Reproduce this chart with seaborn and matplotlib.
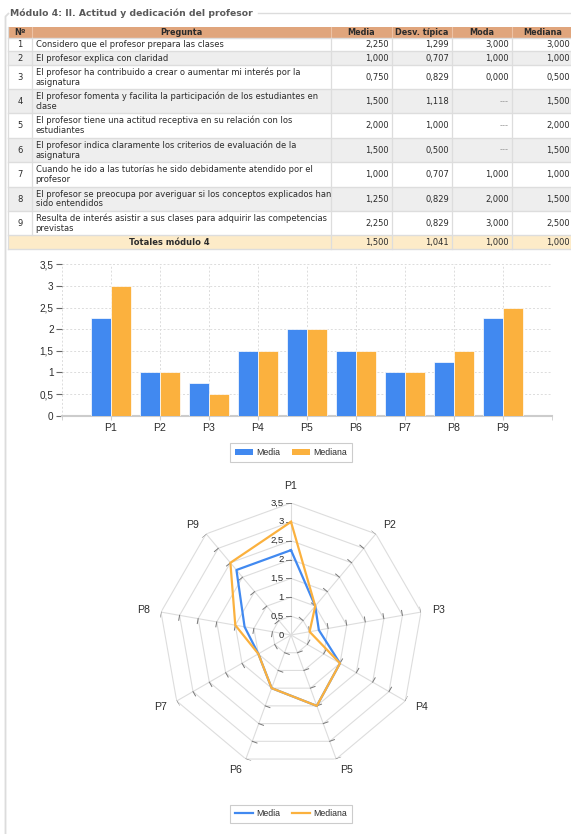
import numpy as np
import pandas as pd
import matplotlib
matplotlib.use("Agg")
import matplotlib.pyplot as plt
import seaborn as sns
from matplotlib.patches import Rectangle, Patch
from matplotlib.lines import Line2D

# ---------------- data ----------------
titulo = "Módulo 4: II. Actitud y dedicación del profesor"
encabezados = ["Nº", "Pregunta", "Media", "Desv. típica", "Moda", "Mediana"]
numeros = ["1", "2", "3", "4", "5", "6", "7", "8", "9"]
preguntas = [
    "Considero que el profesor prepara las clases",
    "El profesor explica con claridad",
    "El profesor ha contribuido a crear o aumentar mi interés por la\nasignatura",
    "El profesor fomenta y facilita la participación de los estudiantes en\nclase",
    "El profesor tiene una actitud receptiva en su relación con los\nestudiantes",
    "El profesor indica claramente los criterios de evaluación de la\nasignatura",
    "Cuando he ido a las tutorías he sido debidamente atendido por el\nprofesor",
    "El profesor se preocupa por averiguar si los conceptos explicados han\nsido entendidos",
    "Resulta de interés asistir a sus clases para adquirir las competencias\nprevistas",
]
media = [2.25, 1.0, 0.75, 1.5, 2.0, 1.5, 1.0, 1.25, 2.25]
desv_tipica = [1.299, 0.707, 0.829, 1.118, 1.0, 0.5, 0.707, 0.829, 0.829]
moda = [3.0, 1.0, 0.0, None, None, None, 1.0, 2.0, 3.0]
mediana = [3.0, 1.0, 0.5, 1.5, 2.0, 1.5, 1.0, 1.5, 2.5]
totales_etiqueta = "Totales módulo 4"
totales = [1.5, 1.041, 1.0, 1.0]
categorias = ["P1", "P2", "P3", "P4", "P5", "P6", "P7", "P8", "P9"]
series = ["Media", "Mediana"]
y_ticks = [0, 0.5, 1, 1.5, 2, 2.5, 3, 3.5]

# ---------------- style ----------------
W, H = 571, 834
AZUL = "#4189F0"
NARANJA = "#FBB13E"
TXT = "#2b2b2b"
plt.rcParams["font.family"] = ["DejaVu Sans"]
CHART_FONT = ["Liberation Sans", "DejaVu Sans"]

fig = plt.figure(figsize=(W / 100, H / 100), dpi=100)


def box(x0, y0, x1, y1):
    return [x0 / W, 1 - y1 / H, (x1 - x0) / W, (y1 - y0) / H]


def fmt3(v):
    return "---" if v is None else f"{v:.3f}".replace(".", ",")


def fmt_tick(v):
    return f"{v:g}".replace(".", ",")


# ---------------- background / table ----------------
bg = fig.add_axes([0, 0, 1, 1])
bg.set_xlim(0, W)
bg.set_ylim(H, 0)
bg.axis("off")

# fieldset border
bg.plot([9, 5.5, 5.5], [13, 16.5, H], color="#dcdcdc", lw=1.3, solid_capstyle="butt")
bg.plot([258, W], [13, 13], color="#dcdcdc", lw=1.0)
bg.text(10, 13.2, titulo, fontsize=6.7, fontweight="bold", color="#595959",
        ha="left", va="center")

cols = [8, 32, 331, 392, 452, 512, 573]
hdr = (26.5, 37.5)
rows = [37.5, 51, 65, 89, 113, 137.5, 162, 186.5, 211, 235, 249]

# header
bg.add_patch(Rectangle((cols[0], hdr[0]), cols[-1] - cols[0], hdr[1] - hdr[0],
                       facecolor="#E0A57C", edgecolor="none"))
for c in cols[1:-1]:
    bg.plot([c, c], hdr, color="#EDC2A4", lw=0.8)
for i, h in enumerate(encabezados):
    bg.text((cols[i] + cols[i + 1]) / 2, sum(hdr) / 2 + 0.3, h, fontsize=5.9,
            fontweight="bold", color=TXT, ha="center", va="center")

# body rows
for r in range(9):
    y0, y1 = rows[r], rows[r + 1]
    fc = "#EEEEEE" if r % 2 == 1 else "white"
    bg.add_patch(Rectangle((cols[0], y0), cols[-1] - cols[0], y1 - y0,
                           facecolor=fc, edgecolor="none"))
    yc = (y0 + y1) / 2 + 0.3
    bg.text(20, yc, numeros[r], fontsize=6, color=TXT, ha="center", va="center")
    bg.text(35.5, yc, preguntas[r], fontsize=6, color=TXT, ha="left", va="center",
            linespacing=1.12)
    vals = [media[r], desv_tipica[r], moda[r], mediana[r]]
    for j, v in enumerate(vals):
        bg.text(cols[j + 3] - 3, yc, fmt3(v), fontsize=6,
                color="#9a9a9a" if v is None else TXT, ha="right", va="center")

# totals row
y0, y1 = rows[9], rows[10]
bg.add_patch(Rectangle((cols[0], y0), cols[-1] - cols[0], y1 - y0,
                       facecolor="#FDEBC8", edgecolor="none"))
yc = (y0 + y1) / 2 + 0.3
bg.text((cols[0] + cols[2]) / 2, yc, totales_etiqueta, fontsize=6,
        fontweight="bold", color=TXT, ha="center", va="center")
for j, v in enumerate(totales):
    bg.text(cols[j + 3] - 3, yc, fmt3(v), fontsize=6, color=TXT,
            ha="right", va="center")

# grid lines of the table
for yy in rows:
    bg.plot([cols[0], cols[-1]], [yy, yy], color="#dddddd", lw=1.0)
for c in cols[1:-1]:
    if c == cols[1]:
        bg.plot([c, c], [rows[0], rows[9]], color="#dddddd", lw=0.9)
    else:
        bg.plot([c, c], [rows[0], rows[10]], color="#dddddd", lw=0.9)
bg.plot([cols[0], cols[0]], [hdr[0], rows[10]], color="#dddddd", lw=0.9)

# ---------------- bar chart ----------------
df_bar = pd.DataFrame({
    "Pregunta": categorias * 2,
    "Valor": media + mediana,
    "Serie": [series[0]] * len(categorias) + [series[1]] * len(categorias),
})
axb = fig.add_axes(box(62, 264.3, 552, 415.7))
sns.barplot(data=df_bar, x="Pregunta", y="Valor", hue="Serie", order=categorias,
            hue_order=series, palette=[AZUL, NARANJA], width=0.8, saturation=1,
            edgecolor="white", linewidth=0.5, legend=False, ax=axb, zorder=3)
axb.set_xlim(-1, 9)
axb.set_ylim(0, 3.5)
axb.set_yticks(y_ticks)
axb.set_yticklabels([fmt_tick(v) for v in y_ticks])
axb.set_xticks([-1, 9], minor=True)
axb.set_xlabel("")
axb.set_ylabel("")
axb.set_axisbelow(True)
axb.grid(True, which="both", axis="both", linestyle=(0, (2, 2)), color="#dcdcdc", lw=0.7)
for s in ["top", "right", "left"]:
    axb.spines[s].set_visible(False)
axb.spines["bottom"].set_color("#cccccc")
axb.spines["bottom"].set_linewidth(1.5)
axb.tick_params(axis="x", which="both", length=3, color="#cccccc", labelsize=7.6,
                labelcolor=TXT, pad=2.5)
axb.tick_params(axis="y", length=4, color="#666666", width=0.8, labelsize=7.2,
                labelcolor=TXT, pad=2)
for lab in axb.get_xticklabels() + axb.get_yticklabels():
    lab.set_family(CHART_FONT)

leg1 = fig.legend(handles=[Patch(facecolor=AZUL), Patch(facecolor=NARANJA)],
                  labels=series, loc="center", bbox_to_anchor=(291 / W, 1 - 452.5 / H),
                  ncol=2, frameon=True, fancybox=False, edgecolor="#cccccc",
                  prop={"family": CHART_FONT, "size": 6.3}, handlelength=2.1,
                  handleheight=0.75, columnspacing=1.3, handletextpad=0.4,
                  borderpad=0.55, framealpha=1)
leg1.get_frame().set_linewidth(0.8)
for t in leg1.get_texts():
    t.set_color(TXT)

# ---------------- radar chart ----------------
CX, CY, R = 291, 635, 132
axr = fig.add_axes(box(CX - R, CY - R, CX + R, CY + R), projection="polar")
axr.set_theta_zero_location("N")
axr.set_theta_direction(-1)
axr.grid(False)
axr.spines["polar"].set_visible(False)
axr.patch.set_visible(False)
axr.set_xticks([])
axr.set_yticks([])

n = len(categorias)
ang = np.arange(n) * 2 * np.pi / n
rmax = y_ticks[-1]
ang_c = np.r_[ang, ang[0]]
for lv in y_ticks[1:]:
    axr.plot(ang_c, [lv] * (n + 1), color="#dddddd", lw=0.8, zorder=1)
for a in ang:
    axr.plot([a, a], [0, rmax], color="#dddddd", lw=0.8, zorder=1)
L = 5 / (R / rmax)
for a in ang:
    for lv in y_ticks[1:]:
        x, y = lv * np.sin(a), lv * np.cos(a)
        xe, ye = x - L * np.cos(a), y + L * np.sin(a)
        axr.plot([a, np.arctan2(xe, ye)], [lv, np.hypot(xe, ye)],
                 color="#777777", lw=0.7, zorder=2)
for lv in y_ticks:
    axr.annotate(fmt_tick(lv), xy=(0, lv), xytext=(-5.2, 0), textcoords="offset points",
                 ha="right", va="center", fontsize=6.8, color=TXT, family=CHART_FONT)

df_rad = pd.DataFrame({
    "theta": np.r_[ang_c, ang_c],
    "Valor": media + media[:1] + mediana + mediana[:1],
    "Serie": [series[0]] * (n + 1) + [series[1]] * (n + 1),
})
sns.lineplot(data=df_rad, x="theta", y="Valor", hue="Serie", hue_order=series,
             palette=[AZUL, NARANJA], sort=False, estimator=None, lw=1.6,
             legend=False, ax=axr, zorder=4)
axr.set_xlabel("")
axr.set_ylabel("")
axr.set_ylim(0, rmax)
axr.set_xticks([])
axr.set_yticks([])

for a, c in zip(ang, categorias):
    s = np.sin(a)
    if abs(s) < 0.1:
        ha, off = "center", 0.45
    elif s > 0:
        ha, off = "left", 0.3
    else:
        ha, off = "right", 0.3
    axr.text(a, rmax + off, c, ha=ha, va="center", fontsize=7.6, color=TXT,
             family=CHART_FONT)

leg2 = fig.legend(handles=[Line2D([], [], color=AZUL, lw=1.6),
                           Line2D([], [], color=NARANJA, lw=1.6)],
                  labels=series, loc="center", bbox_to_anchor=(291 / W, 1 - 814 / H),
                  ncol=2, frameon=True, fancybox=False, edgecolor="#cccccc",
                  prop={"family": CHART_FONT, "size": 6.3}, handlelength=2.1,
                  columnspacing=1.3, handletextpad=0.4, borderpad=0.55, framealpha=1)
leg2.get_frame().set_linewidth(0.8)
for t in leg2.get_texts():
    t.set_color(TXT)

fig.savefig("out.png", dpi=100)
